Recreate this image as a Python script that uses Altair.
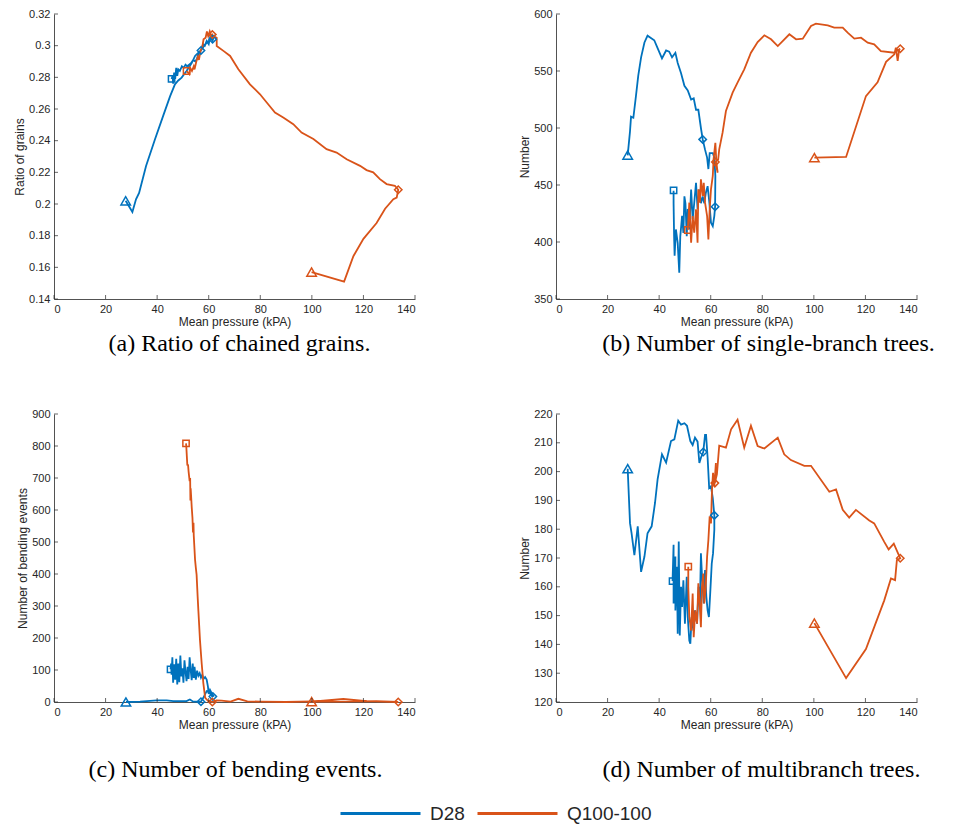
import altair as alt
import pandas as pd

SERIES = ["D28", "Q100-100"]
COLORS = ["#0072BD", "#D95319"]
X_TICKS = [0, 20, 40, 60, 80, 100, 120, 140]

A_TICKS = [0.14, 0.16, 0.18, 0.2, 0.22, 0.24, 0.26, 0.28, 0.3, 0.32]
B_TICKS = [350, 400, 450, 500, 550, 600]
C_TICKS = [0, 100, 200, 300, 400, 500, 600, 700, 800, 900]
D_TICKS = [120, 130, 140, 150, 160, 170, 180, 190, 200, 210, 220]

# (a) Ratio of chained grains: (pressure, value) in path order
A_D28 = [(27.8, 0.202), (30.4, 0.195), (31.8, 0.203), (33.0, 0.207), (35.7, 0.224), (39.2, 0.241),
         (42.4, 0.256), (45.0, 0.268), (46.9, 0.2756), (48.2, 0.278), (49.5, 0.2798), (51.4, 0.284),
         (53.4, 0.289), (54.7, 0.2935), (56.6, 0.2965), (57.0, 0.297), (58.6, 0.3007), (59.9, 0.3028),
         (61.1, 0.305), (62.0, 0.306), (61.5, 0.303), (60.5, 0.305), (60.0, 0.301), (59.2, 0.303),
         (58.5, 0.300), (57.8, 0.301), (57.0, 0.297), (56.2, 0.296), (55.5, 0.292), (54.8, 0.290),
         (54.0, 0.291), (53.2, 0.289), (52.4, 0.288), (51.6, 0.287), (51.0, 0.288), (50.3, 0.286),
         (49.6, 0.287), (48.8, 0.284), (48.2, 0.285), (47.8, 0.281), (47.4, 0.286), (47.0, 0.279),
         (46.6, 0.283), (46.2, 0.276), (46.0, 0.281), (45.6, 0.279)]
A_Q100 = [(99.9, 0.157), (112.5, 0.151), (116.1, 0.167), (120.0, 0.178), (125.1, 0.188), (128.4, 0.197),
          (131.6, 0.203), (132.9, 0.204), (133.5, 0.209), (132.2, 0.2115), (129.0, 0.2126), (126.4, 0.2157),
          (123.8, 0.220), (121.2, 0.2214), (118.7, 0.2241), (113.5, 0.2283), (109.6, 0.2325), (105.7, 0.2346),
          (100.6, 0.241), (96.0, 0.2451), (92.8, 0.2504), (88.9, 0.2546), (85.7, 0.2578), (82.5, 0.2641),
          (79.9, 0.2693), (76.0, 0.2756), (71.5, 0.2851), (68.3, 0.2935), (65.7, 0.2967), (63.1, 0.2998),
          (63.1, 0.305), (61.8, 0.306), (61.4, 0.307), (61.0, 0.306), (60.4, 0.309), (59.8, 0.306),
          (59.3, 0.309), (58.8, 0.305), (58.0, 0.304), (57.5, 0.299), (56.9, 0.297), (56.2, 0.291),
          (55.8, 0.293), (55.2, 0.290), (54.5, 0.285), (54.2, 0.287), (53.5, 0.284), (52.8, 0.286),
          (52.5, 0.282), (51.4, 0.284)]
A_MARKERS = [("D28", "tri", 27.8, 0.202), ("D28", "dia", 57.0, 0.297), ("D28", "dia", 61.5, 0.304),
             ("D28", "sq", 45.6, 0.279), ("Q100-100", "tri", 99.9, 0.157), ("Q100-100", "dia", 133.5, 0.209),
             ("Q100-100", "dia", 61.4, 0.307), ("Q100-100", "sq", 51.4, 0.284)]

# (b) Number of single-branch trees
B_D28 = [(27.8, 476), (28.7, 497), (29.1, 510), (30.0, 509), (31.0, 528), (31.9, 546), (33.0, 562),
         (34.3, 575), (35.5, 581), (36.8, 579), (38.1, 577), (39.4, 570), (41.1, 561), (42.7, 568),
         (43.9, 567), (45.0, 562), (46.3, 566), (47.2, 557), (48.5, 548), (49.8, 537), (51.1, 533),
         (52.4, 525), (53.4, 526), (54.3, 516), (55.2, 516), (56.2, 500), (56.9, 490), (57.8, 481),
         (58.6, 474), (59.1, 464), (59.6, 478), (60.8, 478), (61.4, 474), (61.8, 458), (61.7, 431),
         (61.4, 423), (60.8, 414), (60.1, 417), (59.5, 434), (58.8, 449), (58.1, 443), (57.5, 434),
         (56.9, 440), (56.2, 434), (55.6, 446), (54.9, 429), (54.3, 452), (53.6, 434), (53.0, 420),
         (52.4, 446), (51.7, 411), (51.1, 429), (50.7, 405), (50.2, 434), (49.8, 440), (49.4, 408),
         (48.9, 423), (48.2, 405), (47.8, 373), (47.2, 399), (46.5, 411), (46.0, 388), (45.8, 405),
         (45.6, 434), (45.6, 445)]
B_Q100 = [(100.2, 474), (112.5, 474.6), (120.2, 528), (124.7, 540), (128.0, 558), (131.2, 564.6),
          (131.8, 570.5), (132.5, 558.8), (133.1, 569), (133.5, 569.6), (131.2, 566), (126.0, 567.5),
          (123.4, 573.4), (120.9, 574.9), (118.3, 579.2), (115.7, 578.4), (113.1, 583.6), (111.2, 588),
          (107.9, 588), (105.4, 590), (100.8, 591.5), (98.9, 589.5), (95.7, 578.4), (93.1, 577.8),
          (90.5, 582.2), (87.9, 576.3), (86.0, 571.9), (83.4, 577.8), (80.8, 581.3), (78.2, 575.4),
          (75.6, 566.1), (73.0, 551.5), (70.4, 539.8), (68.5, 531), (65.9, 514.9), (64.6, 495.9),
          (63.3, 481.3), (62.9, 472.5), (61.8, 470.2), (62.7, 460.8), (62.2, 469.6), (61.8, 487),
          (61.1, 472.5), (60.8, 457.9), (60.1, 446.2), (59.6, 428.7), (59.1, 402.3), (58.6, 422.8),
          (57.8, 434.5), (57.3, 452), (56.9, 440.4), (56.2, 455), (55.8, 434.5), (55.2, 446.2),
          (54.9, 399.4), (54.3, 428.7), (53.6, 408.2), (53.0, 422.8), (52.4, 399.4), (51.7, 434.5),
          (51.1, 410.5)]
B_MARKERS = [("D28", "tri", 27.8, 476.3), ("D28", "dia", 56.9, 490), ("D28", "dia", 61.7, 431),
             ("D28", "sq", 45.6, 445.3), ("Q100-100", "tri", 100.2, 474), ("Q100-100", "dia", 133.5, 569.6),
             ("Q100-100", "dia", 61.8, 470.2), ("Q100-100", "sq", 51.1, 410.5)]

# (c) Number of bending events
C_D28 = [(27.9, 0), (33.4, 1), (39.8, 5), (43.7, 5), (46.3, 3), (51.4, 3), (52.7, 8), (54.0, 1),
         (57.0, 1), (57.9, 13), (59.2, 34), (60.2, 30), (61.4, 17), (61.8, 19), (61.0, 30), (60.5, 38),
         (60.0, 25), (59.7, 48), (59.2, 70), (58.6, 78), (58.0, 72), (57.5, 85), (57.0, 76), (56.5, 90),
         (56.0, 82), (55.5, 98), (55.0, 70), (54.5, 110), (54.2, 75), (53.8, 120), (53.4, 68), (53.0, 100),
         (52.6, 140), (52.2, 72), (51.8, 110), (51.4, 65), (51.0, 95), (50.6, 130), (50.2, 60), (49.8, 105),
         (49.4, 80), (49.0, 145), (48.6, 62), (48.2, 120), (47.8, 55), (47.4, 135), (47.0, 70), (46.6, 118),
         (46.2, 60), (45.9, 140), (45.6, 85), (45.4, 120), (45.2, 102)]
C_Q100 = [(99.9, 1), (112.2, 10), (121.3, 3), (127.7, 1), (133.5, 0), (125.0, 3), (110.0, 1), (100.0, 2),
          (90.0, 0), (80.0, 1), (75.0, 2), (71.5, 10), (68.5, 1), (65.0, 4), (63.0, 5), (61.4, 0),
          (60.5, 3), (59.9, 2), (59.2, 8), (58.6, 14), (58.2, 40), (57.9, 60), (57.6, 90), (57.3, 118),
          (57.0, 150), (56.6, 195), (56.3, 240), (56.0, 284), (55.7, 330), (55.3, 398), (55.0, 420),
          (54.7, 445), (54.4, 490), (54.2, 520), (54.1, 560), (53.9, 530), (53.7, 575), (53.4, 610),
          (53.2, 640), (53.0, 668), (52.9, 630), (52.8, 700), (52.6, 690), (52.4, 705), (52.2, 720),
          (52.0, 740), (51.7, 741), (51.5, 770), (51.3, 800), (51.2, 808)]
C_MARKERS = [("D28", "tri", 27.9, 0), ("D28", "dia", 57.0, 1), ("D28", "dia", 61.6, 17),
             ("D28", "sq", 45.2, 102), ("Q100-100", "tri", 99.9, 1), ("Q100-100", "dia", 133.5, 0),
             ("Q100-100", "dia", 61.4, 0), ("Q100-100", "sq", 51.2, 808)]

# (d) Number of multibranch trees
D_D28 = [(27.8, 201), (28.7, 182.1), (29.3, 178.6), (30.4, 171), (31.7, 181), (33.0, 165.2), (34.3, 170.5),
         (35.5, 178.6), (37.1, 181), (38.4, 189.1), (39.4, 197.3), (41.1, 206), (42.7, 203.1), (44.6, 210.6),
         (45.9, 211.2), (47.4, 217.7), (48.5, 216.3), (49.8, 216.8), (50.8, 215.9), (52.1, 210.6), (53.0, 209.2),
         (53.9, 211.8), (54.9, 210.4), (55.6, 203), (56.2, 204.8), (57.1, 206.8), (57.8, 212.7), (58.2, 212.7),
         (58.8, 204.8), (59.4, 194.3), (60.1, 194.9), (60.8, 190.8), (61.4, 184.8), (61.4, 179.8), (60.9, 171.6),
         (60.4, 168.1), (59.8, 157.7), (59.3, 149.5), (58.8, 151.8), (58.3, 156.5), (57.8, 165.8), (57.3, 154.2),
         (56.7, 162.3), (56.2, 171.6), (55.8, 153), (55.3, 160), (54.7, 147.2), (53.9, 151.8), (53.3, 144.8),
         (52.6, 149.5), (52.1, 140.2), (51.7, 141.3), (51.1, 149.5), (50.7, 163.5), (50.0, 147.2), (49.4, 162.3),
         (48.9, 153), (48.5, 160), (48.0, 143.1), (47.6, 175.7), (47.2, 143.7), (46.9, 167), (46.3, 151.8),
         (46.3, 170.5), (45.6, 154.2), (45.6, 174.6), (45.2, 162)]
D_Q100 = [(100.2, 147.4), (112.5, 128.3), (120.2, 138.4), (123.4, 146), (127.3, 155.3), (129.9, 162.9),
          (131.5, 162.3), (132.2, 169.3), (133.5, 169.9), (131.0, 175), (129.0, 173), (127.3, 175.6),
          (123.4, 182), (121.5, 183), (116.3, 186.7), (113.7, 184), (111.2, 186.7), (108.6, 193.8),
          (106.0, 193), (98.9, 202), (96.3, 202), (91.1, 204), (88.5, 206), (86.0, 211.8), (80.8, 208),
          (78.2, 208.9), (75.6, 215.9), (73.0, 208.3), (70.4, 218), (67.9, 214.7), (65.9, 208.3),
          (63.3, 209), (62.4, 199), (61.6, 196), (62.0, 203), (61.4, 195), (60.9, 199.6), (60.5, 193.8),
          (60.1, 182), (59.6, 184.5), (59.1, 176.3), (58.6, 170.5), (58.0, 158.8), (57.5, 154.2),
          (57.1, 164.6), (56.6, 160), (56.2, 146), (55.7, 154.2), (55.2, 161.2), (54.7, 147.2), (54.0, 151.8),
          (53.4, 142.5), (53.0, 157.7), (52.4, 144.8), (51.7, 149.5), (51.3, 160), (51.3, 167)]
D_MARKERS = [("D28", "tri", 27.8, 201), ("D28", "dia", 57.1, 206.8), ("D28", "dia", 61.4, 184.8),
             ("D28", "sq", 45.2, 162), ("Q100-100", "tri", 100.2, 147.4), ("Q100-100", "dia", 133.5, 169.9),
             ("Q100-100", "dia", 61.6, 196), ("Q100-100", "sq", 51.3, 167)]

AXIS_COLOR = "#262626"
MARKER_SIZE = {"tri": 90, "dia": 55, "sq": 40}
W = 361

# legend: long horizontal stroke drawn with a custom symbol path
LEGEND = alt.Legend(orient="none", legendX=317, legendY=790, direction="horizontal", columns=2,
                    gridAlign="none",
                    title=None, symbolType="M-8,0H8", symbolSize=100, symbolStrokeWidth=3,
                    symbolFillColor="transparent",
                    labelFont="Liberation Sans", labelFontSize=19, labelColor=AXIS_COLOR,
                    labelOffset=40, columnPadding=6, padding=0)


def panel(d28, q100, markers, y_ticks, y_fmt, y_title, caption, dx, h, cap_offset):
    rows = []
    for name, pts in (("D28", d28), ("Q100-100", q100)):
        for i, (p, v) in enumerate(pts):
            rows.append({"series": name, "i": i, "p": p, "v": v})
    df = pd.DataFrame(rows)
    mk = pd.DataFrame([{"series": s, "shape": sh, "p": p, "v": v, "sz": MARKER_SIZE[sh]}
                       for s, sh, p, v in markers])
    xs = alt.Scale(domain=[X_TICKS[0], X_TICKS[-1]], nice=False, zero=False)
    ys = alt.Scale(domain=[y_ticks[0], y_ticks[-1]], nice=False, zero=False)
    xa = alt.Axis(values=X_TICKS, title="Mean pressure (kPA)", format="d")
    ya = alt.Axis(values=y_ticks, title=y_title, format=y_fmt)
    X = alt.X("p:Q", scale=xs, axis=xa)
    Y = alt.Y("v:Q", scale=ys, axis=ya)
    color = alt.Color("series:N", scale=alt.Scale(domain=SERIES, range=COLORS), legend=LEGEND)
    lines = alt.Chart(df).mark_line(strokeWidth=1.8).encode(
        x=X, y=Y, color=color, order=alt.Order("i:Q"), detail="series:N")
    pts = alt.Chart(mk).mark_point(filled=False, strokeWidth=1.5, opacity=1).encode(
        x=X, y=Y,
        color=color,
        shape=alt.Shape("shape:N", scale=alt.Scale(domain=["tri", "dia", "sq"],
                                                   range=["triangle-up", "diamond", "square"]), legend=None),
        size=alt.Size("sz:Q", scale=None, legend=None),
    )
    xt = alt.Chart(pd.DataFrame({"p": X_TICKS})).mark_tick(
        orient="vertical", size=4, thickness=1, color=AXIS_COLOR).encode(x=X, y=alt.value(h - 2))
    yt = alt.Chart(pd.DataFrame({"v": y_ticks})).mark_tick(
        orient="horizontal", size=4, thickness=1, color=AXIS_COLOR).encode(y=Y, x=alt.value(2))
    return alt.layer(lines, pts, xt, yt).properties(
        width=W, height=h,
        title=alt.TitleParams(caption, orient="bottom", anchor="middle", font="Liberation Serif",
                              fontSize=24, fontWeight="normal", color="black", dx=dx, offset=cap_offset),
    )


pa = panel(A_D28, A_Q100, A_MARKERS, A_TICKS, "~g", "Ratio of grains",
           "(a) Ratio of chained grains.", 5, 285, 5)
pb = panel(B_D28, B_Q100, B_MARKERS, B_TICKS, "d", "Number",
           "(b) Number of single-branch trees.", 32, 285, 5)
pc = panel(C_D28, C_Q100, C_MARKERS, C_TICKS, "d", "Number of bending events",
           "(c) Number of bending events.", 1, 288, 28)
pd_ = panel(D_D28, D_Q100, D_MARKERS, D_TICKS, "d", "Number",
            "(d) Number of multibranch trees.", 25, 288, 28)

chart = alt.concat(pa, pb, pc, pd_, columns=2, spacing={"row": 52, "column": 102}).properties(
    padding={"left": 5, "top": 0, "right": 0, "bottom": 0}
).configure_view(stroke=None).configure_axis(
    grid=False, tickSize=0, labelPadding=4, titlePadding=2,
    labelFont="Liberation Sans", labelFontSize=11, labelColor=AXIS_COLOR,
    titleFont="Liberation Sans", titleFontSize=12, titleFontWeight="normal", titleColor=AXIS_COLOR,
    domainColor=AXIS_COLOR, domainWidth=0.8,
)

chart.save("out.html", embed_options={"renderer": "svg", "actions": False})
